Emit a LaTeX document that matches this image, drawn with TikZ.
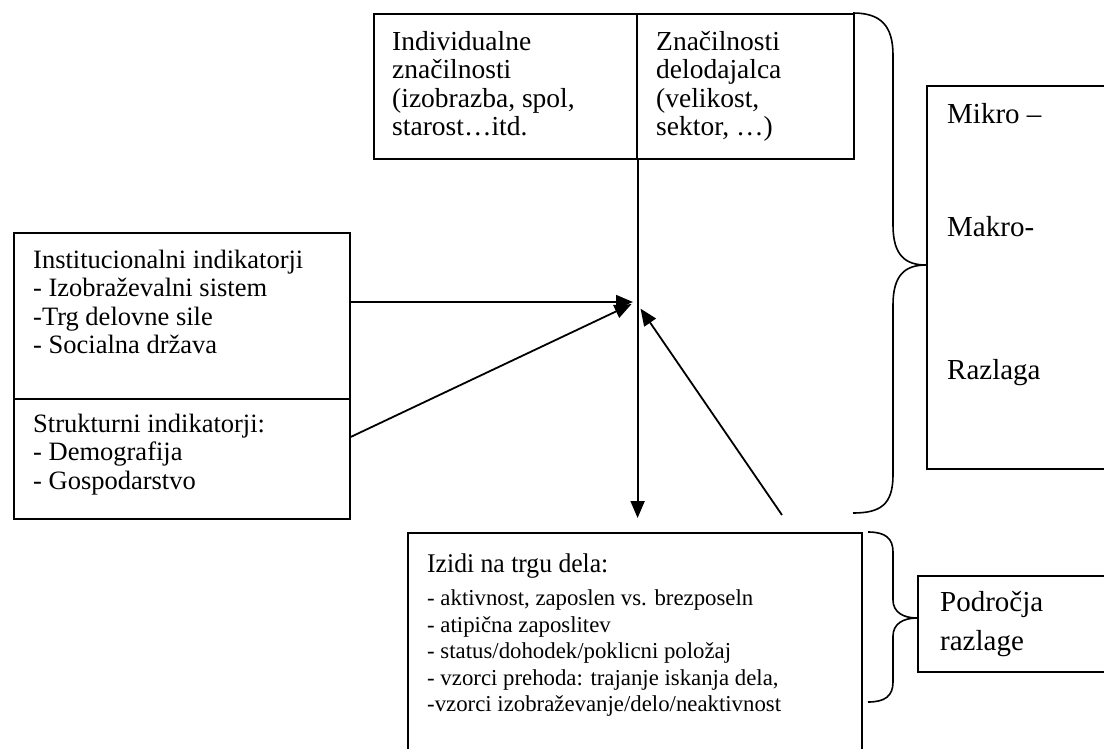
\documentclass[tikz,border=0pt]{standalone}
\usepackage{fontspec}
\setmainfont{Liberation Serif}
\newfontfamily\titlefam{Liberation Serif}[FakeStretch=0.95]
\usetikzlibrary{arrows.meta}
\begin{document}
\begin{tikzpicture}[x=1pt,y=-1pt,
  box/.style={draw, line width=1.6pt, inner sep=0pt, anchor=north west},
  txt/.style={anchor=north west, inner sep=0pt, align=left},
  topfont/.style={font=\fontsize{27.5}{28.5}\selectfont},
  leftfont/.style={font=\fontsize{26.5}{28.3}\selectfont},
  titlefont/.style={font=\titlefam\fontsize{27}{28}\selectfont},
  listfont/.style={font=\fontsize{22.8}{26.6}\selectfont},
  bigfont/.style={font=\fontsize{29}{39}\selectfont},
  conn/.style={line width=1.8pt, -{Triangle[length=17pt,width=14pt]}},
  bracestyle/.style={line width=1.6pt}]
\useasboundingbox (0,0) rectangle (1104,748);
\clip (0,0) rectangle (1104,748);
\fill[white] (0,0) rectangle (1104,748);

% boxes
\node[box, minimum width=263pt, minimum height=145pt] (indiv) at (373,13) {};
\node[box, minimum width=217pt, minimum height=145pt] (employer) at (636,13) {};
\node[box, minimum width=336pt, minimum height=166pt] (inst) at (13,232) {};
\node[box, minimum width=336pt, minimum height=120pt] (struct) at (13,398) {};
\node[box, minimum width=454pt, minimum height=240pt] (izidi) at (407,532) {};
\node[box, minimum width=200pt, minimum height=383pt] (mikro) at (926,85) {};
\node[box, minimum width=200pt, minimum height=96pt] (podr) at (917,575) {};

% texts
\node[txt, topfont] (tindiv) at (392,31) {Individualne\\značilnosti\\(izobrazba, spol,\\starost…itd.};
\node[txt, topfont] (temployer) at (656,31) {Značilnosti\\delodajalca\\(velikost,\\sektor, …)};
\node[txt, leftfont] (tinst) at (33,250) {Institucionalni indikatorji\\- Izobraževalni sistem\\-Trg delovne sile\\- Socialna država};
\node[txt, leftfont] (tstruct) at (33,414) {Strukturni indikatorji:\\- Demografija\\- Gospodarstvo};
\node[txt, titlefont] (tizidi) at (427,553.5) {Izidi na trgu dela:};
\node[txt, listfont] (tlist) at (427,589.5) {- aktivnost, zaposlen vs. brezposeln\\- atipična zaposlitev\\- status/dohodek/poklicni položaj\\- vzorci prehoda: trajanje iskanja dela,\\-vzorci izobraževanje/delo/neaktivnost};
\node[txt, bigfont] (tmikro) at (947,103) {Mikro –};
\node[txt, bigfont] (tmakro) at (947,216) {Makro-};
\node[txt, bigfont] (trazlaga) at (947,359) {Razlaga};
\node[txt, bigfont] (tpodr) at (940,591) {Področja\\razlage};

% connectors
\coordinate (hub) at (636,302);
\coordinate (src) at (782,515);
\draw[conn, shorten >=14pt] (indiv.south east) -- (indiv.south east |- izidi.north);
\draw[conn, shorten >=3pt] (inst.east |- hub) -- (hub);
\draw[conn, shorten >=5pt] (struct.east |- 0,437) -- (hub);
\draw[conn, shorten >=8pt] (src) -- (hub);

% braces
\draw[bracestyle] (853,13) .. controls (880,13) and (893,25) .. (893,55)
  -- (893,225) .. controls (893,255) and (905,265) .. (mikro.west |- 0,265)
  .. controls (905,265) and (893,275) .. (893,305)
  -- (893,475) .. controls (893,505) and (880,513) .. (853,513);
\draw[bracestyle] (868,532) .. controls (885,532) and (893,538) .. (893,552)
  -- (893,600) .. controls (893,612) and (903,618) .. (podr.west |- 0,618)
  .. controls (903,618) and (893,624) .. (893,636)
  -- (893,682) .. controls (893,696) and (885,702) .. (868,702);
\end{tikzpicture}
\end{document}
